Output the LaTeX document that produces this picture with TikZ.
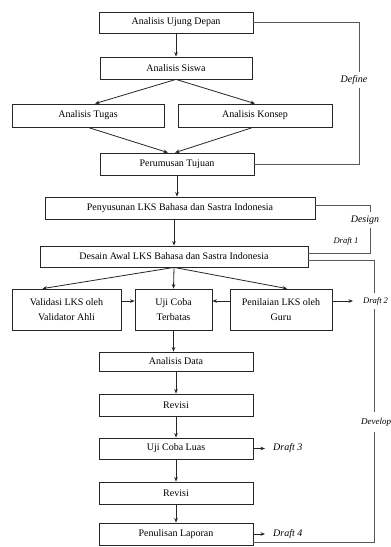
\documentclass[tikz,border=0pt]{standalone}
\usepackage{fontspec}
\setmainfont{Liberation Serif}
\usetikzlibrary{arrows.meta,calc}
\begin{document}
\begin{tikzpicture}[x=1pt,y=-1pt,
  box/.style={draw=black!85,line width=0.8pt,inner sep=1pt,align=center,font=\fontsize{10}{14.5}\selectfont},
  arr/.style={draw=black!85,line width=0.8pt,-{Stealth[length=4.5pt,width=3.6pt]}},
  brk/.style={draw=black!65,line width=0.7pt},
  lbl/.style={font=\fontsize{10}{12}\selectfont\itshape,inner sep=3pt},
  lblsmall/.style={font=\fontsize{8.5}{10}\selectfont\itshape,inner sep=3pt},
  lblmid/.style={font=\fontsize{9}{11}\selectfont\itshape,inner sep=3pt}
]
\fill[white] (0,0) rectangle (391,547);
\useasboundingbox (0,0) rectangle (391,547);

% main boxes
\node[box,minimum width=154pt,minimum height=21pt] (ujung) at (176,22.5) {Analisis Ujung Depan};
\node[box,minimum width=152pt,minimum height=22pt] (siswa) at (176,68) {Analisis Siswa};
\node[box,minimum width=152pt,minimum height=23pt] (tugas) at (88,115.5) {Analisis Tugas};
\node[box,minimum width=154pt,minimum height=23pt] (konsep) at (255,115.5) {Analisis Konsep};
\node[box,minimum width=154pt,minimum height=22pt] (tujuan) at (177,164) {Perumusan Tujuan};
\node[box,minimum width=270pt,minimum height=22pt] (penyusunan) at (180,208) {Penyusunan LKS Bahasa dan Sastra Indonesia};
\node[box,minimum width=268pt,minimum height=21pt] (desain) at (174,256.5) {Desain Awal LKS Bahasa dan Sastra Indonesia};
\node[box,minimum width=109pt,minimum height=41pt] (validasi) at (66.5,309.5) {Validasi LKS oleh\\Validator Ahli};
\node[box,minimum width=77pt,minimum height=41pt] (terbatas) at (173.5,309.5) {Uji Coba\\Terbatas};
\node[box,minimum width=102pt,minimum height=41pt] (penilaian) at (281,309.5) {Penilaian LKS oleh\\Guru};
\node[box,minimum width=154pt,minimum height=19pt] (data) at (176,361.5) {Analisis Data};
\node[box,minimum width=154pt,minimum height=22pt] (revisia) at (176,405) {Revisi};
\node[box,minimum width=154pt,minimum height=21pt] (luas) at (176,448.5) {Uji Coba Luas};
\node[box,minimum width=154pt,minimum height=22pt] (revisib) at (176,493) {Revisi};
\node[box,minimum width=154pt,minimum height=22pt] (laporan) at (176,534) {Penulisan Laporan};

% main arrows
\draw[arr] (ujung.south) -- (siswa.north);
\draw[arr] (siswa.south) -- ([xshift=7pt]tugas.north);
\draw[arr] (siswa.south) -- (konsep.north);
\draw[arr] (tugas.south) -- ([xshift=-9pt]tujuan.north);
\draw[arr] ([xshift=-2pt]konsep.south) -- ([xshift=-2pt]tujuan.north);
\draw[arr] (tujuan.south) -- (tujuan.south |- penyusunan.north);
\draw[arr] (penyusunan.south -| desain.north) -- (desain.north);
\draw[arr] (desain.south) -- ([xshift=-24pt]validasi.north);
\draw[arr] (desain.south) -- (terbatas.north);
\draw[arr] (desain.south) -- ([xshift=6pt]penilaian.north);
\draw[arr] ([yshift=8.5pt]validasi.east) -- ([yshift=8.5pt]terbatas.west);
\draw[arr] ([yshift=8.5pt]penilaian.west) -- ([yshift=8.5pt]terbatas.east);
\draw[arr] (terbatas.south) -- (terbatas.south |- data.north);
\draw[arr] (data.south) -- (revisia.north);
\draw[arr] (revisia.south) -- (luas.north);
\draw[arr] (luas.south) -- (revisib.north);
\draw[arr] (revisib.south) -- (laporan.north);

% labels
\node[lbl] (define) at (354,80) {Define};
\node[lbl] (design) at (365,220) {Design};
\node[lblsmall] (draft1) at (346,241) {Draft 1};
\node[lblsmall,anchor=west,inner xsep=10pt,inner ysep=4pt] (draft2) at (353,301) {Draft 2};
\node[lblmid,anchor=west,inner xsep=1pt,inner ysep=6pt] (develop) at (360,422) {Develop};
\node[lbl,anchor=west,inner xsep=8pt] (draft3) at (265,448.5) {Draft 3};
\node[lbl,anchor=west,inner xsep=8pt] (draft4) at (265,534) {Draft 4};

\coordinate (defx) at (359,0);
\coordinate (desx) at (370,0);
\coordinate (devx) at (374,0);

% Define bracket
\draw[brk] (ujung.east) -- (ujung.east -| defx) -- (defx |- define.north);
\draw[brk] (defx |- define.south) -- (defx |- tujuan.east) -- (tujuan.east);
% Design bracket
\draw[brk] ([yshift=3pt]penyusunan.east) -- ([yshift=3pt]penyusunan.east -| desx) -- (desx |- design.north);
\draw[brk] (desx |- design.south) -- ([yshift=3.5pt]desain.east -| desx) -- ([yshift=3.5pt]desain.east);
% Develop bracket
\draw[brk] ([yshift=-3.5pt]desain.east) -- ([yshift=-3.5pt]desain.east -| devx) -- (devx |- draft2.north);
\draw[brk] (devx |- draft2.south) -- (devx |- develop.north);
\draw[brk] (devx |- develop.south) -- ([yshift=-8.5pt]laporan.east -| devx) -- ([yshift=-8.5pt]laporan.east);

% draft arrows
\draw[arr] ([yshift=8.5pt]penilaian.east) -- (draft2.west);
\draw[arr] (luas.east) -- (draft3.west);
\draw[arr] (laporan.east) -- (draft4.west);
\end{tikzpicture}
\end{document}
